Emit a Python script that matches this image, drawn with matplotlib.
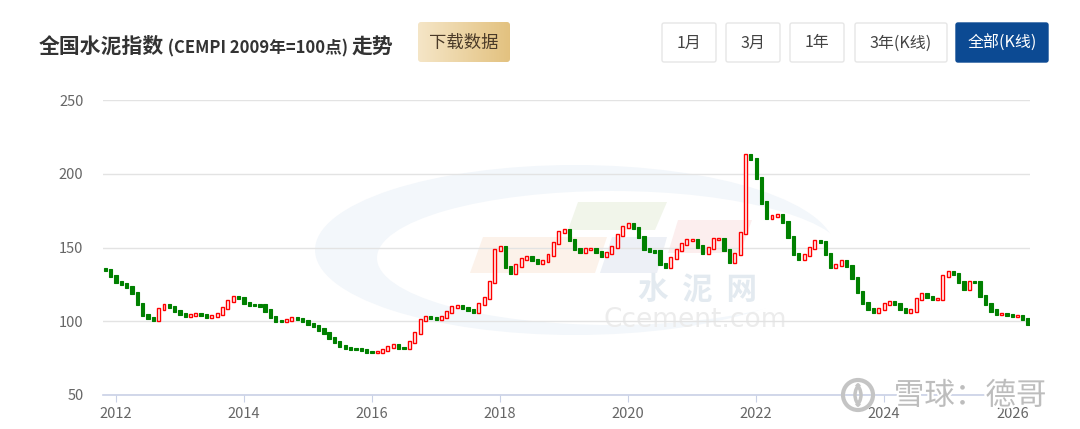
import numpy as np
import pandas as pd
import matplotlib
matplotlib.use('Agg')
import matplotlib.pyplot as plt
import matplotlib.dates as mdates
from matplotlib.patches import FancyBboxPatch, Polygon, Ellipse, Circle, Arc
import matplotlib.patheffects as pe

plt.rcParams['font.family'] = ['Noto Sans CJK SC', 'DejaVu Sans']

# 月度收盘值, 2011-11 ... 2026-04
closes = [
    134.7, 130.5, 126.8, 125.2, 123.4, 118.9, 111.5, 104.4, 102.0, 101.0,
    108.0, 110.8, 109.8, 107.0, 104.6, 103.7, 104.4, 104.7, 104.0, 103.1,
    103.7, 105.0, 108.9, 113.8, 116.4, 115.9, 112.2, 111.0, 110.9, 110.7,
    107.3, 102.8, 100.2, 100.0, 100.8, 102.3, 101.7, 99.9, 98.2, 96.8,
    94.4, 91.8, 88.9, 86.0, 83.5, 82.0, 81.3, 81.0, 80.2, 79.3,
    78.9, 79.1, 80.7, 82.5, 83.8, 82.1, 81.9, 85.8, 92.3, 100.7,
    102.6, 102.2, 101.5, 102.6, 106.5, 109.4, 110.2, 109.0, 107.5, 106.0,
    111.6, 116.0, 126.7, 148.0, 150.4, 136.8, 133.0, 137.8, 142.3, 143.2,
    141.4, 139.2, 141.0, 145.0, 153.2, 160.5, 161.7, 155.4, 149.1, 146.7,
    149.0, 149.0, 147.0, 144.4, 146.1, 150.1, 158.3, 164.2, 166.1, 163.1,
    157.2, 149.1, 147.4, 147.3, 138.8, 136.8, 142.8, 148.3, 152.2, 154.8,
    155.0, 150.7, 146.5, 149.5, 156.0, 156.0, 148.2, 140.3, 145.3, 160.0,
    213.0, 210.0, 197.0, 180.5, 170.0, 171.4, 172.1, 167.6, 157.0, 145.9,
    142.5, 145.1, 149.4, 154.4, 153.9, 145.9, 136.8, 137.9, 141.0, 137.4,
    129.3, 119.7, 112.2, 108.0, 106.4, 108.6, 111.8, 113.3, 111.7, 108.1,
    106.1, 107.3, 115.0, 118.3, 116.7, 114.8, 115.1, 130.5, 133.6, 132.1,
    126.7, 121.9, 126.8, 126.7, 117.3, 112.0, 107.3, 104.6, 104.8, 104.2,
    103.3, 103.4, 101.3, 98.4,
]
dates = pd.date_range('2011-11-01', periods=len(closes), freq='MS')
opens = [closes[0] + 1.0] + closes[:-1]

years = [2012, 2014, 2016, 2018, 2020, 2022, 2024, 2026]
y_ticks = [50, 100, 150, 200, 250]

title_parts = [('全国水泥指数', 15), (' (CEMPI 2009年=100点) ', 12), ('走势', 15)]
download_label = '下载数据'
buttons = ['1月', '3月', '1年', '3年(K线)', '全部(K线)']

W, H = 1080, 429
fig = plt.figure(figsize=(W / 100, H / 100), dpi=100)
fig.patch.set_facecolor('white')


def fx(x):
    return x / W


def fy(y):
    return 1 - y / H


# 背景层 (像素坐标): 水印
bg = fig.add_axes([0, 0, 1, 1], zorder=0)
bg.set_xlim(0, W)
bg.set_ylim(H, 0)
bg.axis('off')

bg.add_patch(Ellipse((575, 250), 520, 170, color='#f3f7fb', lw=0))
bg.add_patch(Ellipse((612, 258), 470, 134, color='white', lw=0))
bg.add_patch(Polygon([(483, 237), (607, 237), (595, 273), (470, 273)], color='#fcf2ea', lw=0))
bg.add_patch(Polygon([(578, 202), (667, 202), (655, 230), (568, 230)], color='#f1f5ea', lw=0))
bg.add_patch(Polygon([(612, 237), (667, 237), (657, 273), (600, 273)], color='#edf0f6', lw=0))
bg.add_patch(Polygon([(678, 220), (752, 220), (740, 253), (668, 253)], color='#fceeee', lw=0))
bg.text(697, 290, '水  泥  网', fontsize=22, fontweight='bold', color='#e3eaf0',
        ha='center', va='center')
bg.text(695, 320, 'Ccement.com', fontsize=19, color='#ececec', ha='center', va='center',
        family='DejaVu Sans')

# 标题
fig.canvas.draw()
r = fig.canvas.get_renderer()
x = 39
for s, size in title_parts:
    t = fig.text(fx(x), fy(53), s, fontsize=size, fontweight='bold', color='#333333',
                 ha='left', va='baseline')
    x += t.get_window_extent(renderer=r).width

# 下载数据 按钮 (渐变)
grad = np.linspace(0, 1, 100).reshape(1, -1)
c1 = np.array([0.96, 0.90, 0.78])
c2 = np.array([0.89, 0.76, 0.50])
img = c1[None, None, :] * (1 - grad[..., None]) + c2[None, None, :] * grad[..., None]
box = FancyBboxPatch((418, 22), 92, 40, boxstyle='round,pad=0,rounding_size=3',
                     facecolor='none', edgecolor='none')
bg.add_patch(box)
im = bg.imshow(img, extent=(418, 510, 62, 22), aspect='auto', zorder=1)
im.set_clip_path(box)
bg.text(464, 43, download_label, fontsize=12.5, color='#4a3a28', ha='center', va='center', zorder=2)

# 右侧按钮
btn_x = [(662, 716), (726, 780), (790, 844), (855, 947), (956, 1048)]
for label, (x0, x1) in zip(buttons, btn_x):
    active = label == buttons[-1]
    bg.add_patch(FancyBboxPatch((x0, 23), x1 - x0, 39, boxstyle='round,pad=0,rounding_size=2',
                                facecolor='#0c4a93' if active else 'white',
                                edgecolor='#0c4a93' if active else '#e6e6e6', lw=1))
    bg.text((x0 + x1) / 2, 43, label, fontsize=11.5, color='white' if active else '#444444',
            ha='center', va='center')

# 主图
ax = fig.add_axes([fx(103), fy(395), (1030 - 103) / W, (395 - 100) / H], zorder=1)
ax.patch.set_alpha(0)
ax.set_ylim(50, 250)
ax.set_xlim(mdates.date2num(pd.Timestamp('2011-10-19')), mdates.date2num(pd.Timestamp('2026-04-12')))

o = np.array(opens)
c = np.array(closes)
up = c >= o
d = mdates.date2num(dates)
pad = 0.7
lo = np.minimum(o, c) - pad
hi = np.maximum(o, c) + pad
ax.bar(d[up], hi[up] - lo[up], bottom=lo[up], width=17, facecolor='white',
       edgecolor='#ff0000', linewidth=1.0, zorder=3)
ax.bar(d[~up], hi[~up] - lo[~up], bottom=lo[~up], width=19, facecolor='#008000',
       edgecolor='#008000', linewidth=0.8, zorder=3)

ax.set_yticks(y_ticks)
ax.set_yticklabels([str(v) for v in y_ticks])
ax.set_xticks(mdates.date2num([pd.Timestamp(f'{y}-01-01') for y in years]))
ax.set_xticklabels([str(y) for y in years])
ax.grid(axis='y', color='#e3e3e3', linewidth=1)
ax.set_axisbelow(True)
for s in ['top', 'right', 'left']:
    ax.spines[s].set_visible(False)
ax.spines['bottom'].set_color('#c9d1e6')
ax.spines['bottom'].set_linewidth(1.2)
ax.tick_params(axis='y', length=0, pad=14, labelsize=10.5, labelcolor='#666666')
ax.tick_params(axis='x', length=5, color='#c9d1e6', pad=4, labelsize=10.5, labelcolor='#666666')

# 右下角水印
ov = fig.add_axes([0, 0, 1, 1], zorder=5)
ov.set_xlim(0, W)
ov.set_ylim(H, 0)
ov.axis('off')
stroke = [pe.withStroke(linewidth=3, foreground='white')]
ov.add_patch(Circle((858, 395), 15, fill=False, edgecolor='#c4c4c4', lw=3,
                    path_effects=stroke))
ov.add_patch(Arc((850, 395), 22, 26, theta1=-60, theta2=60, edgecolor='#c4c4c4', lw=2.5))
ov.add_patch(Arc((866, 395), 22, 26, theta1=120, theta2=240, edgecolor='#c4c4c4', lw=2.5))
ov.text(970, 396, '雪球：德哥', fontsize=22, color='#bdbdbd', ha='center', va='center',
        path_effects=stroke)

fig.savefig('out.png', dpi=100, facecolor='white')
